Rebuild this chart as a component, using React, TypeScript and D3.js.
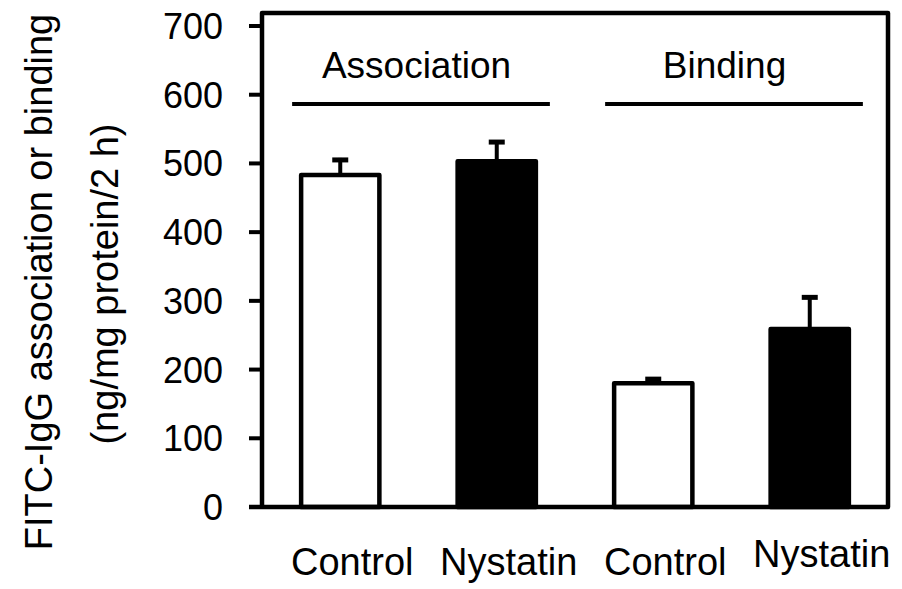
import * as d3 from 'd3';
import React from 'react';

// values
const categories = ['Control', 'Nystatin', 'Control', 'Nystatin'];
const means = [483, 503, 180, 259];
const errors = [25, 31, 9, 49];
const fills = ['#ffffff', '#000000', '#ffffff', '#000000'];
const groups = ['Association', 'Binding'];
const groupMembers = [[0, 1], [2, 3]];
const yTicks = [0, 100, 200, 300, 400, 500, 600, 700];
const yTitle = ['FITC-IgG association or binding', '(ng/mg protein/2 h)'];

const W = 902;
const H = 589;
const FONT = "'Liberation Sans', Arial, Helvetica, sans-serif";

const App = () => {
    const left = 262;
    const right = 888;
    const top = 13;
    const bottom = 507;

    const x = d3.scaleBand<number>()
        .domain(d3.range(categories.length))
        .range([left, right])
        .paddingInner(0.5)
        .paddingOuter(0.25);
    const y = d3.scaleLinear().domain([0, 700]).range([bottom, 26]);
    const bw = x.bandwidth();

    return (
        <svg width={W} height={H} style={{ position: 'absolute', left: 0, top: 0, background: '#fff' }}
            fontFamily={FONT}>
            {/* y title */}
            <text transform={`translate(52,${282}) rotate(-90)`} textAnchor="middle" fontSize={38}>{yTitle[0]}</text>
            <text transform={`translate(118,${284}) rotate(-90)`} textAnchor="middle" fontSize={38}>{yTitle[1]}</text>

            {/* y ticks */}
            {yTicks.map(t => (
                <g key={t}>
                    <line x1={left - 13} x2={left} y1={y(t)} y2={y(t)} stroke="#000" strokeWidth={4} />
                    <text x={223} y={y(t)} dy="0.36em" textAnchor="end" fontSize={36}>{t}</text>
                </g>
            ))}

            {/* bars + error bars */}
            {means.map((m, i) => {
                const cx = x(i)! + bw / 2;
                return (
                    <g key={i}>
                        <line x1={cx} x2={cx} y1={y(m)} y2={y(m + errors[i])} stroke="#000" strokeWidth={4} />
                        <line x1={cx - 8} x2={cx + 8} y1={y(m + errors[i]) + 2} y2={y(m + errors[i]) + 2}
                            stroke="#000" strokeWidth={5} />
                        <rect x={x(i)!} y={y(m)} width={bw} height={y(0) - y(m)} fill={fills[i]}
                            stroke="#000" strokeWidth={4.5} strokeLinejoin="round" />
                    </g>
                );
            })}

            {/* frame */}
            <path d={`M${left},${bottom}V${top}H${right}V${bottom}H${left - 13}`} fill="none" stroke="#000"
                strokeWidth={4.5} strokeLinejoin="round" />

            {/* group labels */}
            {groups.map((g, gi) => {
                const [a, b] = groupMembers[gi];
                const x0 = x(a)! - 9;
                const x1 = x(b)! + bw + 14;
                const mid = (x(a)! + x(b)! + bw) / 2 - (gi === 0 ? 2 : 7);
                return (
                    <g key={g}>
                        <text x={mid} y={78} textAnchor="middle" fontSize={37}>{g}</text>
                        <line x1={x0} x2={x1} y1={104} y2={104} stroke="#000" strokeWidth={4} />
                    </g>
                );
            })}

            {/* category labels */}
            {categories.map((c, i) => (
                <text key={i} x={x(i)! + bw / 2 + 12} y={i === 3 ? 567 : 575} textAnchor="middle" fontSize={38}>{c}</text>
            ))}
        </svg>
    );
};

export default App;
